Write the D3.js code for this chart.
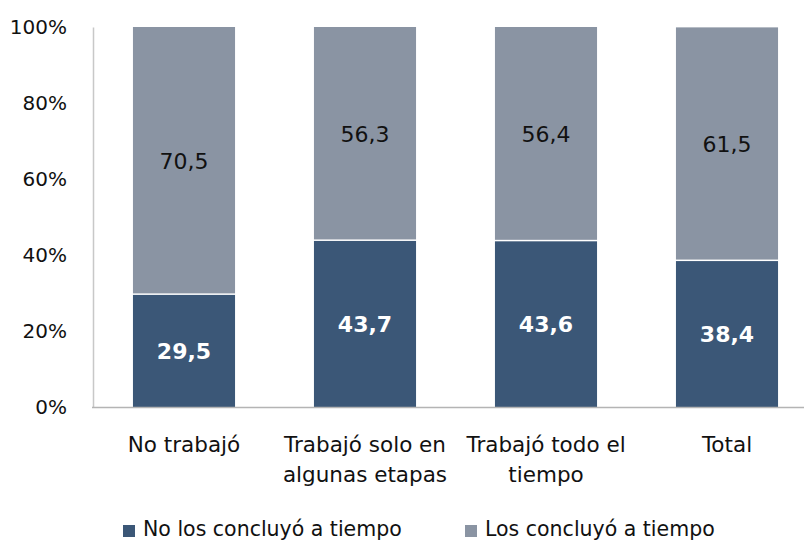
<!DOCTYPE html>
<html>
<head>
<meta charset="utf-8">
<script src="https://cdn.jsdelivr.net/npm/d3@7"></script>
<style>
  html, body { margin: 0; padding: 0; background: #fff; }
  svg { display: block; font-family: "DejaVu Sans", sans-serif; }
</style>
</head>
<body>
<svg id="chart" width="804" height="541"></svg>
<script>
const categories = ["No trabajó", "Trabajó solo en\nalgunas etapas", "Trabajó todo el\ntiempo", "Total"];
const seriesNames = ["No los concluyó a tiempo", "Los concluyó a tiempo"];
const noConcluyo = [29.5, 43.7, 43.6, 38.4];
const siConcluyo = [70.5, 56.3, 56.4, 61.5];
const yTicks = [0, 20, 40, 60, 80, 100];
const colors = ["#3B5777", "#8A94A3"];
const FONT = "DejaVu Sans, sans-serif";

const svg = d3.select("#chart");
const x = d3.scaleBand().domain(categories).range([93.5, 817.5]).paddingInner(0.436).paddingOuter(0.218);
const y = d3.scaleLinear().domain([0, 100]).range([407, 27]);

// stacked data
const rows = categories.map((c, i) => ({ cat: c, a: noConcluyo[i], b: siConcluyo[i] }));
const stack = d3.stack().keys(["a", "b"])(rows);

// bars
stack.forEach((layer, li) => {
  svg.append("g").selectAll("rect").data(layer).join("rect")
    .attr("x", d => x(d.data.cat))
    .attr("width", x.bandwidth())
    .attr("y", d => y(Math.min(d[1], 100)))
    .attr("height", d => y(d[0]) - y(Math.min(d[1], 100)) - (li === 0 ? 0 : 1.5))
    .attr("fill", colors[li]);
});

// value labels
stack.forEach((layer, li) => {
  svg.append("g").selectAll("text").data(layer).join("text")
    .attr("x", d => x(d.data.cat) + x.bandwidth() / 2)
    .attr("y", d => (y(d[0]) + y(Math.min(d[1], 100))) / 2)
    .attr("dy", "0.36em")
    .attr("text-anchor", "middle")
    .attr("font-size", 22)
    .attr("font-family", FONT)
    .attr("font-weight", li === 0 ? "bold" : "normal")
    .attr("fill", li === 0 ? "#ffffff" : "#111111")
    .text(d => d3.format(".1f")(d[1] - d[0]).replace(".", ","));
});

// y axis
const yAxis = d3.axisLeft(y).tickValues(yTicks).tickSize(0).tickPadding(26).tickFormat(d => d + "%");
const gy = svg.append("g").attr("transform", "translate(93,0)").call(yAxis);
gy.select(".domain").attr("stroke", "#c8c8c8").attr("stroke-width", 1.5);
gy.selectAll("text").attr("font-size", 20).attr("fill", "#111").attr("font-family", FONT);

// x axis
const xAxis = d3.axisBottom(x).tickSize(0).tickFormat(() => "");
const gx = svg.append("g").attr("transform", "translate(0,407)").call(xAxis);
gx.select(".domain").remove();
svg.append("line").attr("x1", 92).attr("x2", 804).attr("y1", 407.5).attr("y2", 407.5)
  .attr("stroke", "#b4b4b4").attr("stroke-width", 1.5);

gx.selectAll(".tick").each(function(d) {
  const lines = d.split("\n");
  const t = d3.select(this).append("text")
    .attr("text-anchor", "middle")
    .attr("font-size", 21.5)
    .attr("fill", "#111")
    .attr("font-family", FONT);
  lines.forEach((ln, i) => {
    t.append("tspan").attr("x", 0).attr("y", 45 + i * 30).text(ln);
  });
});

// legend
const legendX = [123, 465];
const lg = svg.append("g");
seriesNames.forEach((name, i) => {
  lg.append("rect").attr("x", legendX[i]).attr("y", 525).attr("width", 12).attr("height", 12).attr("fill", colors[i]);
  lg.append("text").attr("x", legendX[i] + 20).attr("y", 536)
    .attr("font-size", 20.5).attr("fill", "#111").attr("font-family", FONT).text(name);
});
</script>
</body>
</html>
